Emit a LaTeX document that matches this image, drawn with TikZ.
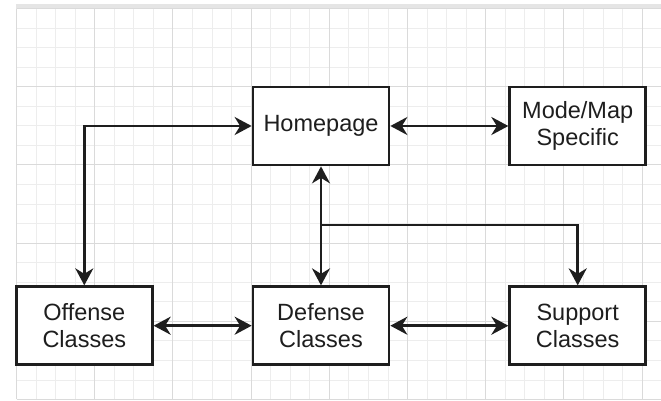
\documentclass[tikz,border=0pt]{standalone}
\usepackage{fontspec}
\setmainfont{Liberation Sans}
\usetikzlibrary{arrows.meta, positioning}
\definecolor{minorgray}{HTML}{EDEDED}
\definecolor{majorgray}{HTML}{DADADA}
\definecolor{inkgray}{HTML}{1E1E1E}
\tikzstyle{block} = [draw=inkgray, line width=2.7pt, fill=white, rectangle, minimum width=136pt, minimum height=78pt, inner sep=0pt, align=center, text=inkgray, font=\fontsize{23.5}{27}\selectfont]
\tikzstyle{link} = [draw=inkgray, line width=2.7pt]

\begin{document}
\begin{tikzpicture}[x=1pt,y=-1pt,>={Stealth[length=17pt,width=18pt,inset=5.5pt]}]
    \useasboundingbox (0,0) rectangle (661,400);
    \fill[white] (0,0) rectangle (661,400);
    \fill[majorgray!70] (16,4) rectangle (661,8.5);
    \foreach \i in {0,...,33} \draw[minorgray, line width=0.9pt] ({16.5+19.55*\i},8.5) -- ({16.5+19.55*\i},399);
    \foreach \j in {0,...,20} \draw[minorgray, line width=0.9pt] (16.5,{8.5+19.55*\j}) -- (661,{8.5+19.55*\j});
    \foreach \i in {0,...,8} \draw[majorgray, line width=1pt] ({16.5+78.2*\i},8.5) -- ({16.5+78.2*\i},399);
    \foreach \j in {0,...,5} \draw[majorgray, line width=1pt] (16.5,{8.5+78.2*\j}) -- (661,{8.5+78.2*\j});
    \node [block] (home) at (321,126) {Homepage};
    \node [block, right=118pt of home] (mode) {Mode/Map\\Specific};
    \node [block, below=119pt of home] (def) {Defense\\Classes};
    \node [block, left=98pt of def] (off) {Offense\\Classes};
    \node [block, right=118pt of def] (supp) {Support\\Classes};
    \coordinate (branch) at (home.south |- 0,225);
    \draw [link, <->] (home) -- (mode);
    \draw [link, <->] (off) -- (def);
    \draw [link, <->] (def) -- (supp);
    \draw [link, <->] (home) -- (def);
    \draw [link, <->] (home.west) -| (off.north);
    \draw [link, ->] (branch) -| (supp.north);
\end{tikzpicture}
\end{document}
